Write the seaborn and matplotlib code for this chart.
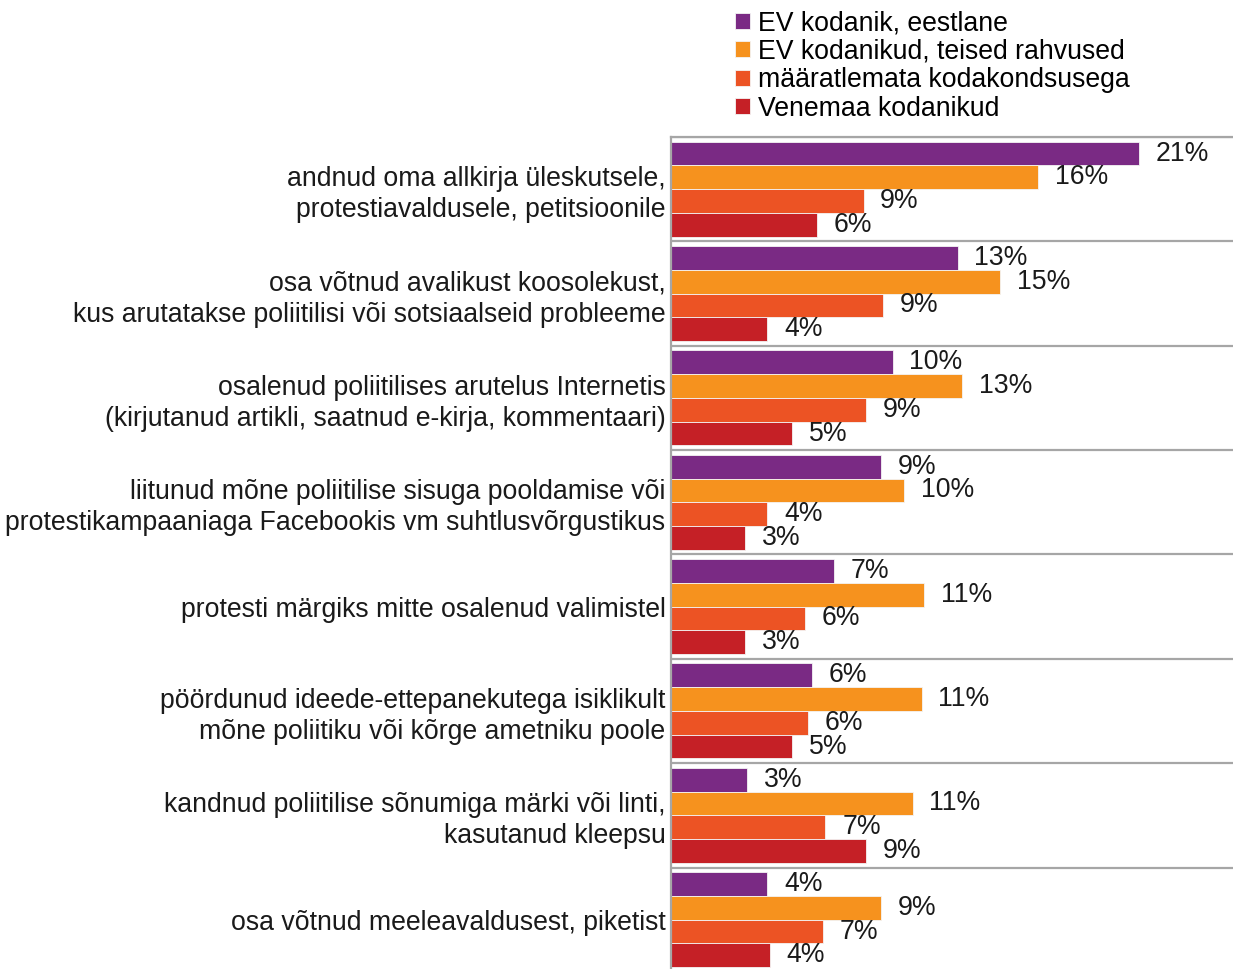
import numpy as np
import pandas as pd
import matplotlib
matplotlib.use("Agg")
import matplotlib.pyplot as plt
import seaborn as sns

categories = [
    "andnud oma allkirja üleskutsele,\nprotestiavaldusele, petitsioonile",
    "osa võtnud avalikust koosolekust,\nkus arutatakse poliitilisi või sotsiaalseid probleeme",
    "osalenud poliitilises arutelus Internetis\n(kirjutanud artikli, saatnud e-kirja, kommentaari)",
    "liitunud mõne poliitilise sisuga pooldamise või\nprotestikampaaniaga Facebookis vm suhtlusvõrgustikus",
    "protesti märgiks mitte osalenud valimistel",
    "pöördunud ideede-ettepanekutega isiklikult\nmõne poliitiku või kõrge ametniku poole",
    "kandnud poliitilise sõnumiga märki või linti,\nkasutanud kleepsu",
    "osa võtnud meeleavaldusest, piketist",
]
series = [
    "EV kodanik, eestlane",
    "EV kodanikud, teised rahvused",
    "määratlemata kodakondsusega",
    "Venemaa kodanikud",
]
ev_eestlane = [20.9, 12.8, 9.9, 9.4, 7.3, 6.3, 3.4, 4.3]
ev_teised = [16.4, 14.7, 13.0, 10.4, 11.3, 11.2, 10.8, 9.4]
maaratlemata = [8.6, 9.45, 8.7, 4.3, 6.0, 6.1, 6.9, 6.8]
venemaa = [6.5, 4.3, 5.4, 3.3, 3.3, 5.4, 8.7, 4.4]
colors = ["#7A2A84", "#F6921E", "#EC5324", "#C52026"]

values = [ev_eestlane, ev_teised, maaratlemata, venemaa]
df = pd.DataFrame({
    "category": np.tile(categories, len(series)),
    "series": np.repeat(series, len(categories)),
    "value": np.concatenate(values),
})

plt.rcParams["font.family"] = ["Liberation Sans", "DejaVu Sans"]
FS = 19.2
fig = plt.figure(figsize=(12.33, 9.69), dpi=100)
ax = fig.add_axes([671 / 1233, (969 - 975) / 969, 1 - 671 / 1233, (975 - 137) / 969])

sns.barplot(data=df, y="category", x="value", hue="series", order=categories,
            hue_order=series, palette=colors, saturation=1, orient="h", width=0.91,
            gap=0, edgecolor="#F4F4F4", linewidth=0.6, errorbar=None, ax=ax)

for cont, vals in zip(ax.containers, values):
    ax.bar_label(cont, labels=[f"{round(v)}%" for v in vals], padding=12,
                 fontsize=FS, color="#1a1a1a")

ax.set_xlim(0, 25.1)
ax.set_ylim(len(categories) - 0.5 + 0.03, -0.5 + 0.03)
ax.set_xlabel("")
ax.set_ylabel("")
ax.set_xticks([])
ax.set_yticks(range(len(categories)))
ax.set_yticklabels(categories, fontsize=FS, color="#1a1a1a", linespacing=1.25)
ax.tick_params(axis="y", length=0, pad=4)
ax.set_yticks(np.arange(-0.5, len(categories), 1), minor=True)
ax.tick_params(axis="y", which="minor", length=0)
ax.grid(True, which="minor", axis="y", color="#A6A6A6", linewidth=1.6)
ax.set_axisbelow(True)
for s in ["right", "bottom"]:
    ax.spines[s].set_visible(False)
for s in ["left", "top"]:
    ax.spines[s].set_color("#A6A6A6")
    ax.spines[s].set_linewidth(1.6)

handles, labels = ax.get_legend_handles_labels()
ax.get_legend().remove()
fig.legend(handles, labels, loc="upper left", bbox_to_anchor=(730 / 1233, 1 - 5 / 969),
           frameon=False, fontsize=FS, handlelength=0.55, handleheight=0.55,
           handletextpad=0.3, labelspacing=0.09, borderaxespad=0, borderpad=0.2)

fig.savefig("out.png", dpi=100)
